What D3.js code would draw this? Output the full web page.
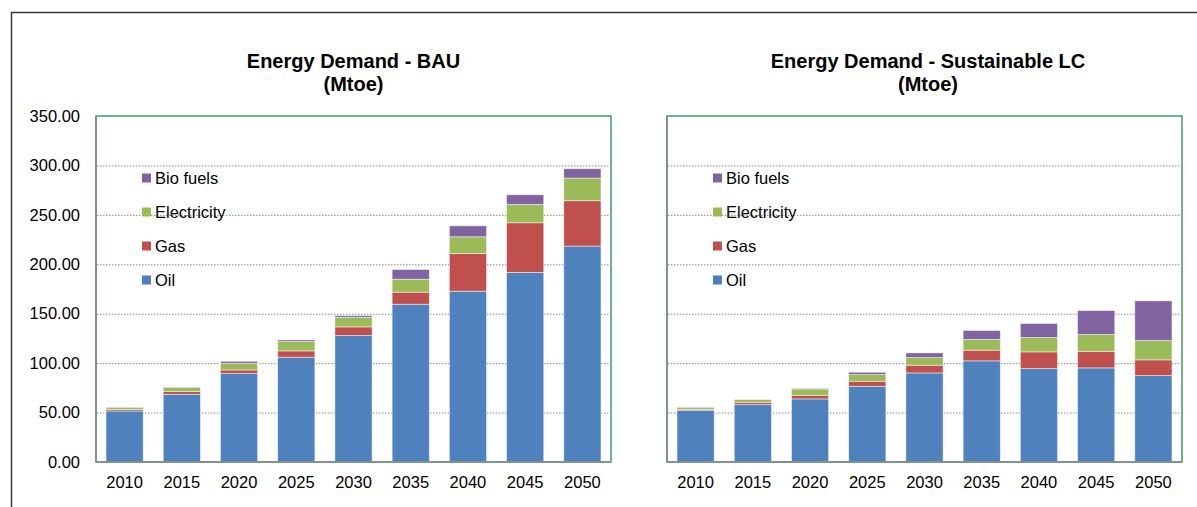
<!DOCTYPE html>
<html>
<head>
<meta charset="utf-8">
<script src="https://cdn.jsdelivr.net/npm/d3@7"></script>
<style>
  body { margin: 0; background: #fff; }
  text { font-family: Arial, "Liberation Sans", sans-serif; fill: #000; }
</style>
</head>
<body>
<svg id="canvas" width="1197" height="507"></svg>
<script>
// years on the x axis
let years = ["2010", "2015", "2020", "2025", "2030", "2035", "2040", "2045", "2050"];
let series = ["Oil", "Gas", "Electricity", "Bio fuels"];
let yTicks = [0, 50, 100, 150, 200, 250, 300, 350];

// BAU scenario (Mtoe)
let bauOil  = [51.6, 68.5, 89.4, 106.0, 127.9, 159.6, 172.8, 191.7, 218.4];
let bauGas  = [1.5, 2.7, 3.7, 6.4, 8.8, 12.2, 38.1, 50.3, 45.9];
let bauElec = [2.0, 4.1, 6.8, 9.4, 9.8, 13.1, 16.9, 18.5, 22.9];
let bauBio  = [0.4, 0.4, 2.0, 1.7, 1.7, 9.8, 11.1, 9.8, 9.5];

// Sustainable LC scenario (Mtoe)
let lcOil  = [52.0, 58.0, 63.8, 76.6, 90.1, 102.3, 94.5, 95.2, 87.4];
let lcGas  = [1.3, 2.4, 3.7, 5.1, 7.8, 10.8, 16.9, 16.8, 15.9];
let lcElec = [1.7, 2.7, 6.4, 6.7, 7.7, 10.8, 14.5, 16.9, 19.5];
let lcBio  = [0.7, 0.3, 0.7, 2.4, 4.8, 9.1, 14.2, 24.3, 40.2];

let colors = {"Oil": "#4f81bd", "Gas": "#c0504d", "Electricity": "#9bbb59", "Bio fuels": "#8064a2"};

let canvas = d3.select("#canvas");

// outer frame (left + top edges visible)
canvas.append("path")
      .attr("d", "M11.5,507 V12.5 H1197")
      .attr("fill", "none")
      .attr("stroke", "#3a3a3a")
      .attr("stroke-width", 1.5);

let buildRows = (oil, gas, elec, bio) => years.map((y, i) => ({
    year: y, "Oil": oil[i], "Gas": gas[i], "Electricity": elec[i], "Bio fuels": bio[i]
}));

let drawChart = (rows, left, titleLines, titleShift, showYLabels) => {
    let top = 116, bottom = 462, width = 515;

    let x = d3.scaleBand().domain(years).range([left, left + width]).paddingInner(0.35).paddingOuter(0.175);
    let y = d3.scaleLinear().domain([0, 350]).range([bottom, top]);

    let g = canvas.append("g");

    // title
    let tx = left + width / 2 + titleShift;
    let title = g.append("text")
                 .attr("x", tx)
                 .attr("y", 68)
                 .attr("text-anchor", "middle")
                 .style("font-size", "20px")
                 .style("font-weight", "bold");
    titleLines.forEach((t, i) => {
        title.append("tspan").attr("x", tx).attr("dy", i === 0 ? 0 : 23).text(t);
    });

    // plot border
    g.append("rect")
     .attr("x", left).attr("y", top)
     .attr("width", width).attr("height", bottom - top)
     .attr("fill", "none")
     .attr("stroke", "#3d9f5e")
     .attr("stroke-width", 1.5);

    // dotted gridlines
    g.append("g")
     .selectAll("line")
     .data(yTicks.filter(t => t > 0 && t < 350))
     .enter()
     .append("line")
     .attr("x1", left + 1).attr("x2", left + width - 1)
     .attr("y1", t => y(t) + 0.5).attr("y2", t => y(t) + 0.5)
     .attr("stroke", "#8c8c8c")
     .attr("stroke-width", 1)
     .attr("stroke-dasharray", "1.5,1.5");

    // stacked bars
    let stack = d3.stack().keys(series)(rows);
    g.append("g")
     .selectAll("g")
     .data(stack)
     .enter()
     .append("g")
     .attr("fill", s => colors[s.key])
     .selectAll("rect")
     .data(s => s)
     .enter()
     .append("rect")
     .attr("x", d => x(d.data.year))
     .attr("width", x.bandwidth())
     .attr("y", d => y(d[1]))
     .attr("height", d => y(d[0]) - y(d[1]))
     .attr("stroke", "rgba(255,255,255,0.6)")
     .attr("stroke-width", 0.8);

    // axis lines
    g.append("line")
     .attr("x1", left).attr("x2", left + width)
     .attr("y1", bottom).attr("y2", bottom)
     .attr("stroke", "#7d9488").attr("stroke-width", 2);
    g.append("line")
     .attr("x1", left).attr("x2", left)
     .attr("y1", top).attr("y2", bottom)
     .attr("stroke", "#7d9488").attr("stroke-width", 2);

    // x axis labels
    let xAxis = g.append("g")
                 .attr("transform", `translate(0,${bottom})`)
                 .call(d3.axisBottom(x).tickSize(0).tickPadding(14));
    xAxis.select(".domain").remove();
    xAxis.selectAll("text").style("font-size", "16.5px").style("font-family", "Arial, 'Liberation Sans', sans-serif");

    if (showYLabels) {
        let yAxis = g.append("g")
                     .attr("transform", "translate(80,0)")
                     .call(d3.axisLeft(y).tickValues(yTicks).tickFormat(d3.format(".2f")).tickSize(0).tickPadding(0));
        yAxis.select(".domain").remove();
        yAxis.selectAll("text").style("font-size", "16.5px").style("font-family", "Arial, 'Liberation Sans', sans-serif");
    }

    // legend
    let legend = g.append("g")
                  .selectAll("g")
                  .data(series.slice().reverse())
                  .enter()
                  .append("g")
                  .attr("transform", (s, i) => `translate(${left + 46},${178 + i * 34})`);
    legend.append("rect")
          .attr("x", 0).attr("y", -4.5)
          .attr("width", 9).attr("height", 9)
          .attr("fill", s => colors[s]);
    legend.append("text")
          .attr("x", 13).attr("y", 6)
          .style("font-size", "16.5px")
          .text(s => s);
};

drawChart(buildRows(bauOil, bauGas, bauElec, bauBio), 96, ["Energy Demand - BAU", "(Mtoe)"], 0, true);
drawChart(buildRows(lcOil, lcGas, lcElec, lcBio), 667, ["Energy Demand - Sustainable LC", "(Mtoe)"], 3.5, false);
</script>
</body>
</html>
